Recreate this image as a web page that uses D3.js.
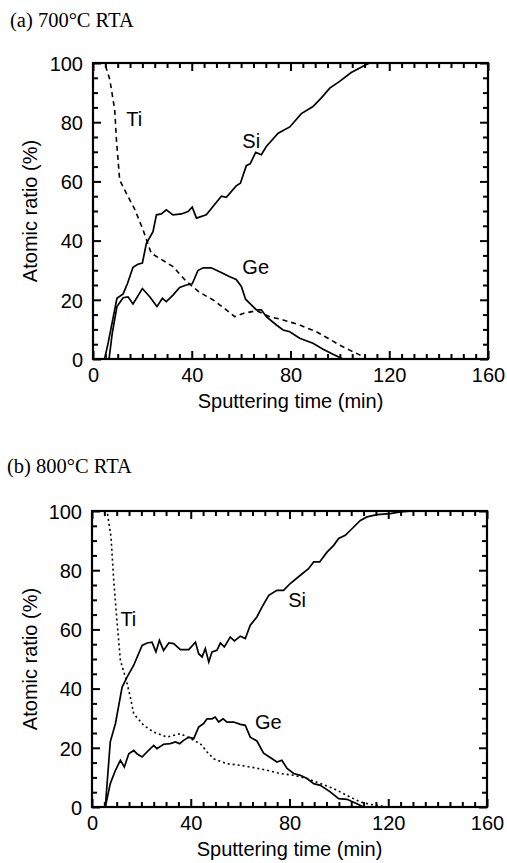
<!DOCTYPE html>
<html>
<head>
<meta charset="utf-8">
<script src="https://cdn.jsdelivr.net/npm/d3@7"></script>
<style>
  body { margin: 0; background: #fff; }
  .tick text { font-family: "Liberation Sans", Arial, sans-serif; font-size: 20px; fill: #000; }
  .axisTitle { font-family: "Liberation Sans", Arial, sans-serif; font-size: 20px; }
  .panelTitle { font-family: "Liberation Serif", "Times New Roman", serif; font-size: 20.5px; }
  .curveLabel { font-family: "Liberation Sans", Arial, sans-serif; font-size: 20px; }
</style>
</head>
<body>
<div id="chart"></div>
<script>
// Values: [time (min), atomic ratio (%)]
var siA = [[4.7,0],[6.1,5.3],[9.7,20.5],[12.2,22],[14,25.6],[16.2,31],[18.2,32],[20,32.4],[21.6,39],[24.3,43],
  [25.7,48.7],[27.7,49],[29.7,50.4],[32.4,48.7],[35.8,49],[38.5,49.8],[40.2,51.3],[41.9,47.6],[45.9,48.7],
  [48.6,51.5],[52,55],[54,54.6],[58,58.5],[59.7,59.4],[62.1,65.3],[63.7,66],[65.9,69.8],[68.2,69],[70.2,71.8],
  [75,76.3],[79.7,78.4],[84.4,82.9],[89.1,85.3],[92.5,88.2],[95.9,91.5],[99.9,93.8],[104.6,96.8],[109.4,98.9],[112,100]];
var geA = [[6.5,0],[7.8,8.7],[9.7,17.7],[12.2,20.7],[14.2,21],[16.2,18.6],[20,23.8],[22.9,21.1],[25.9,17.7],
  [28.1,20.5],[29.7,19.4],[32.4,21.6],[35.1,24.2],[37.8,25],[40.2,25.4],[42.5,29.9],[44.6,30.8],[47.9,30.8],
  [51.3,29.5],[55.4,27.8],[58,26.9],[60.1,24.5],[61.8,20.2],[63.5,18.8],[66.2,16.6],[68.2,16.6],[70.2,14.3],
  [74.3,11.5],[77,9.8],[79.7,9.2],[83.7,7],[89.1,5.3],[93.2,3.3],[97.2,1.6],[101.3,0]];
var tiA = [[5.1,99],[6.8,94.4],[8.8,84.2],[9.5,74],[10.8,60.5],[13.5,56],[16.9,50.6],[20.3,43.6],[23.6,35.7],
  [27,34],[32.4,31.2],[37.8,26.2],[43.2,22.5],[48.6,20],[54,16.6],[57.4,14.3],[60.8,15.4],[66.2,16.3],
  [71.6,14.3],[77,13.2],[83.7,11.5],[90.5,9.2],[95.2,7],[99.9,4.7],[104,3],[108,1.4],[110.7,0]];

var siB = [[5.4,0],[7.4,22],[9.5,28.2],[12.2,40.5],[14.2,43.9],[16.9,47.9],[20.3,54.6],[22.3,55.4],[24.3,55.7],
  [25.9,52.4],[27.3,56.3],[29,52.9],[31.1,55.4],[33.1,55.2],[35.8,53.2],[39.2,53.2],[41.9,55.7],[43.2,51.8],
  [44.6,50.7],[45.9,53.5],[47.3,49],[48.6,52.4],[50.6,52.9],[52,55.4],[53.6,54.1],[56,57.4],[57.7,56.1],
  [60.1,57.7],[62.1,56.9],[64.1,61.4],[66.8,64.2],[68.9,67.6],[71.6,71.5],[74.9,73.2],[77.6,73.2],[80.3,75.5],
  [84.4,78.3],[87.7,80.5],[89.8,82.8],[92.2,82.8],[95.2,86.1],[97.9,88.4],[99.9,90.7],[102.6,91.8],[105.3,94],
  [108.7,96.8],[111.4,98],[115.4,98.8],[120.8,99.1],[124.9,99.7],[130,100]];
var geB = [[5.4,0],[7.4,7.9],[9.5,12.4],[11.5,15.8],[13.1,13.5],[14.9,18],[16.9,19.1],[18.2,18],[20.3,16.9],
  [22.3,18.6],[25,20.8],[26.3,19.7],[29,21.2],[31.7,21.4],[33.8,22],[35.5,21.4],[37.1,22.5],[39.2,23.6],
  [41.2,23.1],[43.2,27],[45.2,28.2],[46.6,29.8],[48.6,29.8],[49.9,30.4],[51.3,28.7],[53.1,29.8],[54.7,28.7],
  [57.4,28.7],[60.1,27.9],[62.1,27.6],[64.1,23.6],[66.8,22.3],[69.5,18.2],[72.2,16.7],[74.9,15.2],[76.9,15.8],
  [79,13],[81.7,11.3],[84.4,10.7],[87.1,9.6],[89.8,7.9],[92.5,7.3],[96.5,5.1],[99.9,2.8],[103.3,2.6],
  [107.3,1.1],[110,0]];
var tiB = [[6.3,99],[7.7,91.2],[8.8,76.6],[10.1,63],[11.5,49.5],[13.9,42.8],[15.5,37.2],[16.9,31.5],[20.9,27.6],
  [25,25.3],[30.4,23.6],[35.8,24.8],[39.8,23.1],[43.9,21.4],[46.6,18.6],[49.3,16.3],[54.7,14.6],[60.1,14.1],
  [65.5,13.3],[70.9,12.4],[76.3,11.3],[81.7,10.7],[87.1,9.6],[92.5,7.9],[97.9,6.2],[103.3,3.9],[108.7,1.7],
  [112.7,0.9],[118.1,0.2]];

var xTicks = [0, 40, 80, 120, 160];
var yTicks = [0, 20, 40, 60, 80, 100];

var svgWidth = 507;
var svgHeight = 863;

var svg = d3.select("#chart")
  .append("svg")
  .attr("width", svgWidth)
  .attr("height", svgHeight);

svg.append("rect").attr("width", svgWidth).attr("height", svgHeight).attr("fill", "#fff");

function drawPanel(p) {
  var width = 395, height = 296;

  var g = svg.append("g").attr("transform", `translate(${p.left}, ${p.top})`);

  var x = d3.scaleLinear().domain([0, 160]).range([0, width]);
  var y = d3.scaleLinear().domain([0, 100]).range([height, 0]);

  var xMinor = d3.range(0, 161, 5).filter(d => d % 40 !== 0);
  var yMinor = d3.range(0, 101, 5).filter(d => d % 20 !== 0);

  var line = d3.line().x(d => x(d[0])).y(d => y(d[1]));

  g.append("path").datum(p.ti).attr("d", line)
    .attr("fill", "none").attr("stroke", "#000").attr("stroke-width", 1.6)
    .attr("stroke-dasharray", p.tiDash);
  g.append("path").datum(p.ge).attr("d", line)
    .attr("fill", "none").attr("stroke", "#000").attr("stroke-width", 1.7);
  g.append("path").datum(p.si).attr("d", line)
    .attr("fill", "none").attr("stroke", "#000").attr("stroke-width", 1.7);

  // inner ticks on all four sides
  function addAxis(axis, tr) {
    var a = g.append("g").attr("transform", tr).call(axis);
    a.select(".domain").remove();
    a.selectAll(".tick line").attr("stroke", "#000").attr("stroke-width", 2);
    return a;
  }
  addAxis(d3.axisBottom(x).tickValues(xTicks).tickSize(-8).tickPadding(8.5), `translate(0, ${height})`);
  addAxis(d3.axisBottom(x).tickValues(xMinor).tickSize(-5).tickFormat(""), `translate(0, ${height})`);
  addAxis(d3.axisTop(x).tickValues(xTicks).tickSize(-8).tickFormat(""), "translate(0, 0)");
  addAxis(d3.axisTop(x).tickValues(xMinor).tickSize(-5).tickFormat(""), "translate(0, 0)");
  addAxis(d3.axisLeft(y).tickValues(yTicks).tickSize(-8).tickPadding(10), "translate(0, 0)")
    .selectAll(".tick text").attr("dy", "0.36em");
  addAxis(d3.axisLeft(y).tickValues(yMinor).tickSize(-5).tickFormat(""), "translate(0, 0)");
  addAxis(d3.axisRight(y).tickValues(yTicks).tickSize(-8).tickFormat(""), `translate(${width}, 0)`);
  addAxis(d3.axisRight(y).tickValues(yMinor).tickSize(-5).tickFormat(""), `translate(${width}, 0)`);

  g.append("rect")
    .attr("width", width).attr("height", height)
    .attr("fill", "none").attr("stroke", "#000").attr("stroke-width", 2.2);

  // curve labels
  p.labels.forEach(function(l) {
    g.append("text").attr("class", "curveLabel")
      .attr("x", x(l.t)).attr("y", y(l.v)).text(l.name);
  });

  // axis titles
  g.append("text").attr("class", "axisTitle")
    .attr("text-anchor", "middle")
    .attr("x", width / 2).attr("y", height + 49)
    .text("Sputtering time (min)");
  g.append("text").attr("class", "axisTitle")
    .attr("text-anchor", "middle")
    .attr("transform", `translate(${-p.left + 37}, ${height / 2}) rotate(-90)`)
    .text("Atomic ratio (%)");

  svg.append("text").attr("class", "panelTitle")
    .attr("x", p.titleX).attr("y", p.titleY).text(p.title);
}

drawPanel({
  left: 93, top: 63, si: siA, ge: geA, ti: tiA, tiDash: "5,4",
  title: "(a) 700°C RTA", titleX: 10, titleY: 27,
  labels: [{name: "Ti", t: 13.5, v: 78.7}, {name: "Si", t: 60.5, v: 71.3}, {name: "Ge", t: 60.5, v: 28.7}]
});

drawPanel({
  left: 92, top: 511, si: siB, ge: geB, ti: tiB, tiDash: "2,3",
  title: "(b) 800°C RTA", titleX: 7, titleY: 473,
  labels: [{name: "Ti", t: 11.5, v: 61}, {name: "Si", t: 79.5, v: 67.5}, {name: "Ge", t: 66, v: 26.5}]
});
</script>
</body>
</html>
